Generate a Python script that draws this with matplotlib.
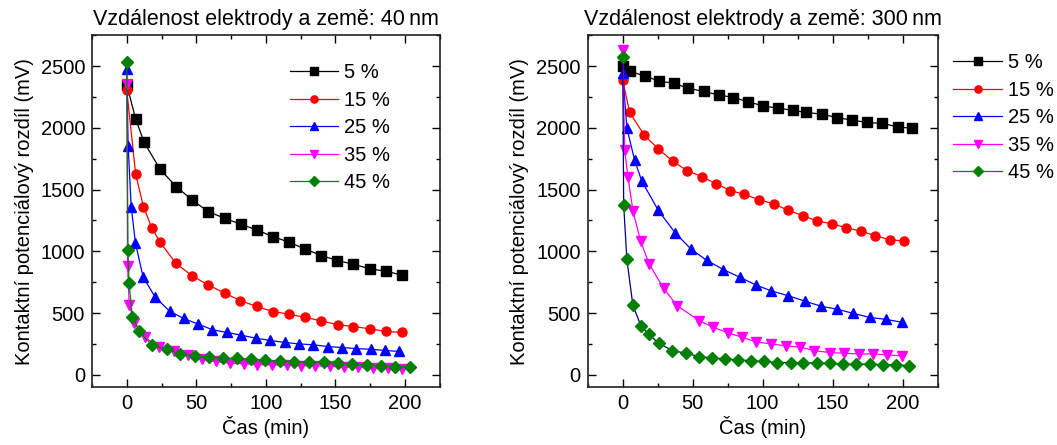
import matplotlib
matplotlib.use('Agg')
import matplotlib.pyplot as plt
from matplotlib.ticker import MultipleLocator
import numpy as np

plt.rcParams['font.family'] = ['Liberation Sans', 'DejaVu Sans']

labels = ['5 %', '15 %', '25 %', '35 %', '45 %']
colors = ['black', 'red', 'blue', 'magenta', 'green']
markers = ['s', 'o', '^', 'v', 'D']

# --- 40 nm ---
t40_5 = [0, 6.5, 12.5, 24, 35.5, 47, 58.5, 70.5, 82, 93.5, 105, 117, 128.5, 140, 151.5, 163, 175, 186.5, 198]
v40_5 = [2350, 2068, 1882, 1664, 1524, 1416, 1321, 1267, 1219, 1173, 1119, 1073, 1017, 965, 925, 895, 857, 839, 806]
t40_15 = [0, 6.4, 12, 18, 24, 35.3, 47, 58.5, 70.4, 81.7, 93.5, 105, 116.8, 128.4, 140, 151.6, 163, 175, 186.5, 198]
v40_15 = [2306, 1626, 1362, 1189, 1073, 903, 801, 728, 661, 601, 553, 512, 491, 464, 437, 405, 391, 372, 351, 343]
t40_25 = [0, 1.0, 3.2, 6.3, 11.8, 20.4, 30.8, 41, 51.4, 61.6, 71.9, 82.2, 92.6, 103.2, 113.6, 123.8, 134.2, 144.4, 154.8, 165, 175.4, 185.5, 196]
v40_25 = [2475, 1855, 1362, 1065, 790, 630, 515, 456, 410, 365, 343, 321, 297, 278, 262, 250, 243, 229, 221, 212, 207, 197, 189]
t40_35 = [0, 0.6, 1.8, 5.5, 13, 23.5, 34, 44, 54, 64, 74, 84, 94, 104.5, 115, 125, 135.5, 146, 156, 166.5, 177, 187.5, 198]
v40_35 = [2357, 880, 566, 420, 305, 222, 190, 160, 125, 108, 95, 89, 82, 80, 78, 75, 72, 68, 64, 60, 56, 52, 48]
t40_45 = [0, 0.9, 1.6, 4, 9, 18, 28.6, 38.6, 49, 59, 69, 79.4, 89.5, 99.5, 110, 120, 131, 141.5, 151.7, 162, 172.5, 182.7, 193, 203.5]
v40_45 = [2535, 1008, 741, 472, 355, 240, 208, 165, 154, 143, 135, 133, 127, 118, 110, 107, 104, 100, 92, 86, 80, 74, 67, 63]

# --- 300 nm ---
t300_5 = [0, 5, 15.6, 26, 36.6, 47, 58, 68.6, 79, 89.6, 100, 110.9, 121.5, 131, 142.5, 153, 163.8, 174.5, 185.6, 196.5, 207]
v300_5 = [2500, 2460, 2419, 2379, 2360, 2320, 2294, 2266, 2245, 2212, 2177, 2159, 2142, 2124, 2110, 2083, 2062, 2043, 2035, 2008, 1995]
t300_15 = [0, 5, 15.4, 25.5, 36, 46, 56.5, 66.7, 77, 87, 97.6, 108, 118.4, 129, 139, 149.4, 159.6, 170, 180.4, 190.8, 201]
v300_15 = [2387, 2124, 1941, 1828, 1728, 1653, 1605, 1546, 1492, 1460, 1417, 1384, 1331, 1288, 1245, 1223, 1191, 1164, 1126, 1094, 1083]
t300_25 = [0, 3, 8.5, 13.7, 25.5, 37.4, 49, 60, 72, 84, 95.5, 106, 118.4, 130, 141.8, 153, 164.8, 176.4, 188, 199.8]
v300_25 = [2446, 1997, 1739, 1567, 1331, 1151, 1016, 927, 852, 788, 726, 680, 640, 597, 555, 532, 497, 465, 449, 425]
t300_35 = [0, 1.4, 3.8, 7.3, 12.8, 18.7, 29.3, 39, 54.8, 64.8, 75, 85.3, 95.3, 106, 116.5, 127, 137, 147.8, 158, 168.6, 178.7, 189, 199.3]
v300_35 = [2629, 1820, 1600, 1328, 1083, 901, 699, 559, 438, 384, 341, 304, 266, 250, 234, 223, 196, 180, 175, 169, 169, 161, 153]
t300_45 = [0, 0.7, 3, 7.3, 13, 18.7, 25.8, 35.5, 45, 54.4, 63.6, 72.8, 82.5, 91.7, 101, 110.6, 120, 129, 138.8, 148, 157.7, 167, 176.4, 185.8, 195, 204.5]
v300_45 = [2575, 1376, 935, 562, 398, 328, 255, 196, 175, 148, 137, 129, 121, 113, 108, 99, 99, 99, 94, 94, 86, 86, 86, 81, 81, 73]

series40 = [(t40_5, v40_5), (t40_15, v40_15), (t40_25, v40_25), (t40_35, v40_35), (t40_45, v40_45)]
series300 = [(t300_5, v300_5), (t300_15, v300_15), (t300_25, v300_25), (t300_35, v300_35), (t300_45, v300_45)]
line300 = ['black', 'red', 'blue', 'magenta', 'navy']

fig = plt.figure(figsize=(10.57, 4.45), dpi=100)
ax1 = fig.add_axes([0.087, 0.130, 0.329, 0.791])
ax2 = fig.add_axes([0.556, 0.130, 0.331, 0.791])


def style_axis(ax, title):
    ax.set_xlim(-25, 225)
    ax.set_ylim(-100, 2750)
    ax.xaxis.set_major_locator(MultipleLocator(50))
    ax.xaxis.set_minor_locator(MultipleLocator(25))
    ax.yaxis.set_major_locator(MultipleLocator(500))
    ax.yaxis.set_minor_locator(MultipleLocator(250))
    ax.tick_params(which='both', direction='in', top=True, right=True, labelsize=14.5, width=1)
    ax.tick_params(which='major', length=6, pad=5)
    ax.tick_params(which='minor', length=3)
    for sp in ax.spines.values():
        sp.set_linewidth(1.2)
        sp.set_color('#222222')
    ax.set_xlabel('Čas (min)', fontsize=14.5, labelpad=2)
    ax.set_ylabel('Kontaktní potenciálový rozdíl (mV)', fontsize=14.5, labelpad=5)
    ax.set_title(title, fontsize=15.5, pad=7)


for (t, v), c, m, lab in zip(series40, colors, markers, labels):
    ms = 6 if m == 'D' else 6.5
    ax1.plot(t, v, color=c, marker=m, markersize=ms, linewidth=0.9, label=lab)

for (t, v), c, lc, m, lab in zip(series300, colors, line300, markers, labels):
    ms = 6 if m == 'D' else 6.5
    ax2.plot(t, v, color=lc, marker=m, markersize=ms, markerfacecolor=c,
             markeredgecolor=c, linewidth=0.9, label=lab)

style_axis(ax1, 'Vzdálenost elektrody a země: 40\u2009nm')
style_axis(ax2, 'Vzdálenost elektrody a země: 300\u2009nm')

leg_kw = dict(frameon=False, fontsize=14.5, handlelength=2.4, handletextpad=0.3,
              labelspacing=0.42, borderpad=0, borderaxespad=0, markerscale=0.8,
              loc='upper left', bbox_transform=fig.transFigure)
ax1.legend(bbox_to_anchor=(0.274, 0.858), **leg_kw)
leg2 = ax2.legend(bbox_to_anchor=(0.902, 0.880), **leg_kw)
# legend line for 45 % drawn green like the markers
leg2.get_lines()[4].set_color('green')

fig.savefig('out.png', dpi=100)
